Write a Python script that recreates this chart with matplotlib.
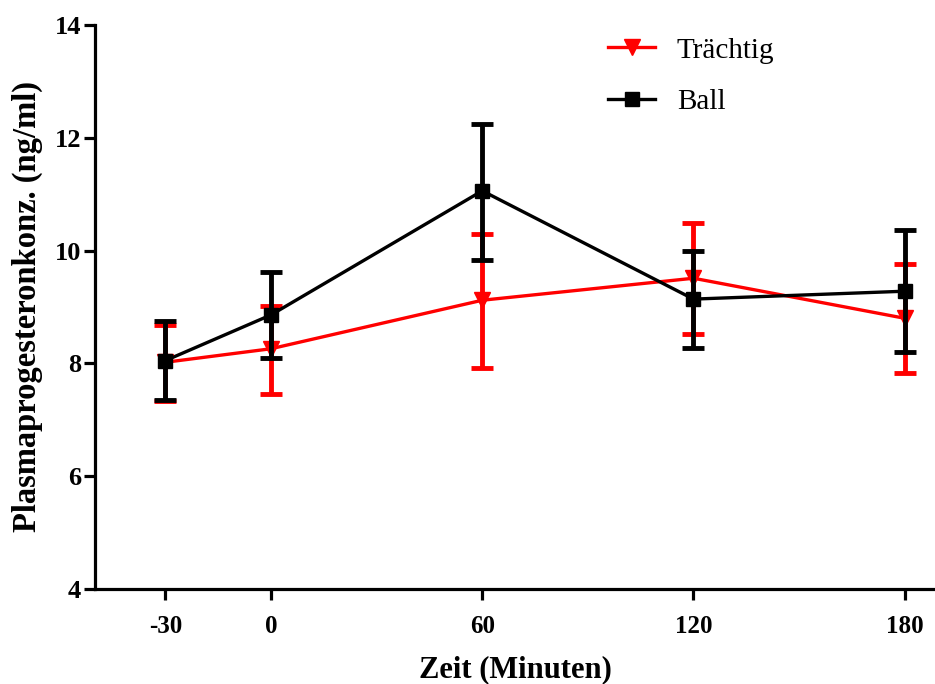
import numpy as np
import matplotlib.pyplot as plt

plt.rcParams["font.family"] = ["Liberation Serif", "DejaVu Serif"]
plt.rcParams["font.weight"] = "bold"
plt.rcParams["axes.labelweight"] = "bold"
plt.rcParams["axes.unicode_minus"] = False

zeit = [-30, 0, 60, 120, 180]
traechtig = [8.02, 8.26, 9.12, 9.51, 8.80]
traechtig_hi = [8.68, 9.02, 10.29, 10.49, 9.76]
traechtig_lo = [7.33, 7.46, 7.92, 8.52, 7.83]
ball = [8.05, 8.86, 11.06, 9.14, 9.28]
ball_hi = [8.75, 9.62, 12.24, 9.99, 10.37]
ball_lo = [7.35, 8.10, 9.83, 8.27, 8.20]

fig = plt.figure(figsize=(9.35, 6.84), dpi=100)
ax = fig.add_axes([95/935, 1-589/684, 1-95/935, (589-25)/684])


def series(y, lo, hi, color, marker, ms, label, z):
    y, lo, hi = np.array(y), np.array(lo), np.array(hi)
    return ax.errorbar(zeit, y, yerr=[y-lo, hi-y], color=color, ecolor=color,
                       elinewidth=3.5, capsize=8, capthick=3.5, lw=2.4,
                       marker=marker, markersize=ms, label=label, zorder=z)


e1 = series(traechtig, traechtig_lo, traechtig_hi, "#ff0000", "v", 11, "Trächtig", 3)
e2 = series(ball, ball_lo, ball_hi, "black", "s", 10.5, "Ball", 4)

ax.set_xlim(-50, 188.6)
ax.set_ylim(4, 14)
ax.set_xticks(zeit)
ax.set_yticks([4, 6, 8, 10, 12, 14])
for s in ["top", "right"]:
    ax.spines[s].set_visible(False)
for s in ["left", "bottom"]:
    ax.spines[s].set_linewidth(2.3)
ax.tick_params(width=2.3, length=8)
ax.tick_params(axis="x", labelsize=18, pad=11)
ax.tick_params(axis="y", labelsize=19, pad=2)

ax.set_xlabel("Zeit (Minuten)", fontsize=22, fontweight="bold", labelpad=12)
ax.set_ylabel("Plasmaprogesteronkonz. (ng/ml)", fontsize=23.5, fontweight="bold",
              labelpad=8)

ax.legend([e1[0], e2[0]], ["Trächtig", "Ball"], loc="upper left",
          bbox_to_anchor=(0.58, 1.025), frameon=False,
          prop={"size": 21, "weight": "normal"}, handlelength=1.6,
          handletextpad=0.75, labelspacing=0.85)

fig.savefig("out.png", dpi=100)
